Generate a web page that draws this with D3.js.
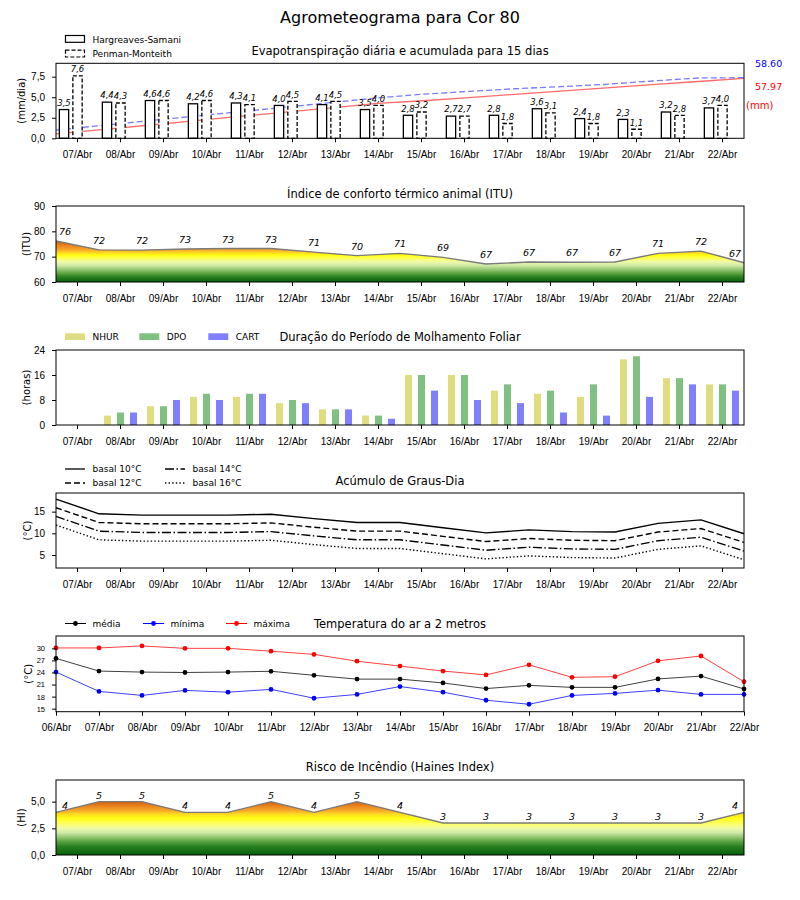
<!DOCTYPE html>
<html>
<head>
<meta charset="utf-8">
<script src="https://cdn.jsdelivr.net/npm/d3@7"></script>
<style>
body { margin: 0; background: #fff; }
svg { font-family: "DejaVu Sans", sans-serif; }
</style>
</head>
<body>
<svg id="chart" width="800" height="900"></svg>
<script>
// datas
const dias = ['07/Abr', '08/Abr', '09/Abr', '10/Abr', '11/Abr', '12/Abr', '13/Abr', '14/Abr',
    '15/Abr', '16/Abr', '17/Abr', '18/Abr', '19/Abr', '20/Abr', '21/Abr', '22/Abr'];
const diasTemp = ['06/Abr', '07/Abr', '08/Abr', '09/Abr', '10/Abr', '11/Abr', '12/Abr', '13/Abr', '14/Abr',
    '15/Abr', '16/Abr', '17/Abr', '18/Abr', '19/Abr', '20/Abr', '21/Abr', '22/Abr'];

// evapotranspiração (mm/dia) e acumulada (mm)
const etHS = [3.5, 4.4, 4.6, 4.2, 4.3, 4.0, 4.1, 3.5, 2.8, 2.7, 2.8, 3.6, 2.4, 2.3, 3.2, 3.7];
const etPM = [7.6, 4.3, 4.6, 4.6, 4.1, 4.5, 4.5, 4.0, 3.2, 2.7, 1.8, 3.1, 1.8, 1.1, 2.8, 4.0];
const acumHS = [4.2, 8.4, 12.6, 16.8, 21.1, 25.3, 29.5, 33.7, 36.3, 39.4, 42.5, 45.6, 48.7, 51.8, 54.9, 57.97];
const acumPM = [8.0, 12.4, 16.9, 21.3, 25.7, 30.1, 34.6, 39.0, 42.6, 45.3, 47.9, 49.9, 52.2, 55.4, 58.3, 58.6];
const ticksET = [0, 2.5, 5, 7.5];

// ITU
const itu = [76.2, 72.7, 72.6, 73.0, 73.2, 73.2, 71.8, 70.4, 71.3, 69.7, 67.1, 67.9, 67.8, 67.9, 71.3, 72.2, 67.6];
const ticksITU = [60, 70, 80, 90];

// molhamento foliar (horas)
const nhur = [0, 3, 6, 9, 9, 7, 5, 3, 16, 16, 11, 10, 9, 21, 15, 13];
const dpo = [0, 4, 6, 10, 10, 8, 5, 3, 16, 16, 13, 11, 13, 22, 15, 13];
const cart = [0, 4, 8, 8, 10, 7, 5, 2, 11, 8, 7, 4, 3, 9, 13, 11];
const ticksMolh = [0, 8, 16, 24];

// graus-dia
const basal10 = [17.9, 14.5, 14.2, 14.2, 14.2, 14.4, 13.4, 12.5, 12.5, 11.3, 10.1, 10.8, 10.4, 10.3, 12.3, 13.1, 9.9];
const basal12 = [15.9, 12.5, 12.2, 12.2, 12.2, 12.4, 11.4, 10.5, 10.5, 9.3, 8.1, 8.8, 8.4, 8.3, 10.3, 11.1, 7.9];
const basal14 = [13.9, 10.5, 10.2, 10.2, 10.2, 10.4, 9.4, 8.5, 8.5, 7.3, 6.1, 6.8, 6.4, 6.3, 8.3, 9.1, 5.9];
const basal16 = [11.9, 8.5, 8.2, 8.2, 8.2, 8.4, 7.4, 6.5, 6.5, 5.3, 4.1, 4.8, 4.4, 4.3, 6.3, 7.1, 3.9];
const ticksGD = [5, 10, 15];

// temperatura
const tMedia = [27.5, 24.35, 24.1, 24.0, 24.1, 24.3, 23.3, 22.35, 22.35, 21.4, 20.0, 20.8, 20.3, 20.3, 22.4, 23.1, 19.9];
const tMin = [24.1, 19.3, 18.3, 19.55, 19.1, 19.8, 17.6, 18.55, 20.5, 19.1, 17.1, 16.1, 18.3, 18.8, 19.6, 18.55, 18.55];
const tMax = [30.1, 30.1, 30.6, 30.0, 30.0, 29.3, 28.5, 26.8, 25.6, 24.35, 23.4, 25.9, 22.8, 22.95, 26.9, 28.1, 21.7];
const ticksTemp = [15, 18, 21, 24, 27, 30];

// haines
const haines = [4, 5, 5, 4, 4, 5, 4, 5, 4, 3, 3, 3, 3, 3, 3, 3, 4];
const ticksHI = [0, 2.5, 5];

const L = 56, R = 744;
const svg = d3.select('#chart');
const defs = svg.append('defs');
const loc = d3.formatLocale({decimal: ',', thousands: '.', grouping: [3], currency: ['', '']});
const fmt1 = loc.format('.1f');

const xb = d3.scaleBand().domain(dias).range([L, R]);
const bw = xb.bandwidth();
const cx = d => xb(d) + bw / 2;

svg.append('text')
    .attr('x', 400).attr('y', 23)
    .attr('text-anchor', 'middle')
    .style('font-size', '16px')
    .text('Agrometeograma para Cor 80');

function titulo(txt, y) {
    svg.append('text')
        .attr('x', 400).attr('y', y)
        .attr('text-anchor', 'middle')
        .style('font-size', '11.5px')
        .text(txt);
}

function rotulo(txt, x, top, bottom) {
    svg.append('text')
        .attr('transform', 'translate(' + x + ',' + ((top + bottom) / 2) + ') rotate(-90)')
        .attr('text-anchor', 'middle')
        .attr('dy', '0.35em')
        .style('font-size', '10px')
        .text(txt);
}

function eixos(y, ticks, format, bottom, xscale, yFont) {
    let gy = svg.append('g')
        .attr('transform', 'translate(' + L + ',0)')
        .call(d3.axisLeft(y).tickValues(ticks).tickFormat(format).tickSize(4).tickPadding(7).tickSizeOuter(0));
    gy.select('.domain').remove();
    gy.selectAll('text').attr('font-size', yFont || '10px').attr('font-family', null).attr('fill', '#000');
    let gx = svg.append('g')
        .attr('transform', 'translate(0,' + bottom + ')')
        .call(d3.axisBottom(xscale || xb).tickSize(4).tickPadding(8.5).tickSizeOuter(0));
    gx.select('.domain').remove();
    gx.selectAll('text').attr('font-size', '10px').attr('font-family', null).attr('fill', '#000');
}

function moldura(top, bottom) {
    svg.append('rect')
        .attr('x', L).attr('y', top)
        .attr('width', R - L).attr('height', bottom - top)
        .attr('fill', 'none').attr('stroke', '#000').attr('stroke-width', 1);
}

function gradiente(id, y, stops) {
    let grad = defs.append('linearGradient')
        .attr('id', id)
        .attr('gradientUnits', 'userSpaceOnUse')
        .attr('x1', 0).attr('x2', 0)
        .attr('y1', y(stops[0][0])).attr('y2', y(stops[stops.length - 1][0]));
    let v0 = stops[0][0], v1 = stops[stops.length - 1][0];
    stops.forEach(s => {
        grad.append('stop')
            .attr('offset', (s[0] - v0) / (v1 - v0))
            .attr('stop-color', s[1]);
    });
}

// ---------- 1. Evapotranspiração ----------
{
    const top = 63.3, bottom = 138.3;
    const y = d3.scaleLinear().domain([0, 9.13]).range([bottom, top]);
    const y2 = d3.scaleLinear().domain([0, 72.5]).range([bottom, top]);
    const xl = d3.scaleLinear().domain([0, acumHS.length - 1]).range([L, R]);

    const line = d3.line().x((d, i) => xl(i)).y(d => y2(d));
    svg.append('path').datum(acumHS)
        .attr('d', line).attr('fill', 'none')
        .attr('stroke', '#ff6b6b').attr('stroke-width', 1.3);
    svg.append('path').datum(acumPM)
        .attr('d', line).attr('fill', 'none')
        .attr('stroke', '#7a7aff').attr('stroke-width', 1.3)
        .attr('stroke-dasharray', '6,3');

    const w = bw * 0.216, off = bw * 0.314;
    svg.selectAll('rect.hs').data(etHS).enter().append('rect')
        .attr('class', 'hs')
        .attr('x', (d, i) => cx(dias[i]) - off - w / 2)
        .attr('y', d => y(d))
        .attr('width', w)
        .attr('height', d => bottom - y(d))
        .attr('fill', '#fff').attr('stroke', '#000').attr('stroke-width', 1.3);
    svg.selectAll('rect.pm').data(etPM).enter().append('rect')
        .attr('class', 'pm')
        .attr('x', (d, i) => cx(dias[i]) - w / 2)
        .attr('y', d => y(d))
        .attr('width', w)
        .attr('height', d => bottom - y(d))
        .attr('fill', '#fff').attr('stroke', '#000').attr('stroke-width', 1.3)
        .attr('stroke-dasharray', '4,2');
    svg.selectAll('text.hs').data(etHS).enter().append('text')
        .attr('x', (d, i) => cx(dias[i]) - off)
        .attr('y', d => y(d) - 3.7)
        .attr('text-anchor', 'middle')
        .style('font-size', '8.5px').style('font-style', 'italic')
        .text(d => fmt1(d));
    svg.selectAll('text.pm').data(etPM).enter().append('text')
        .attr('x', (d, i) => cx(dias[i]))
        .attr('y', d => y(d) - 3.7)
        .attr('text-anchor', 'middle')
        .style('font-size', '8.5px').style('font-style', 'italic')
        .text(d => fmt1(d));

    moldura(top, bottom);
    eixos(y, ticksET, fmt1, bottom);
    rotulo('(mm/dia)', 21, top, bottom);
    titulo('Evapotranspiração diária e acumulada para 15 dias', 55);

    svg.append('text').attr('x', 755).attr('y', 66.5)
        .style('font-size', '9.5px').attr('fill', '#0000ff')
        .text(acumPM[acumPM.length - 1].toFixed(2));
    svg.append('text').attr('x', 755).attr('y', 89.5)
        .style('font-size', '9.5px').attr('fill', '#ff0000')
        .text(acumHS[acumHS.length - 1].toFixed(2));
    svg.append('text').attr('x', 746).attr('y', 108.5)
        .style('font-size', '10px').attr('fill', '#ff0000')
        .text('(mm)');

    // legenda
    const leg = [['Hargreaves-Samani', null], ['Penman-Monteith', '4,2']];
    leg.forEach((l, i) => {
        let yy = 35.5 + i * 14.7;
        svg.append('rect').attr('x', 65.5).attr('y', yy).attr('width', 19).attr('height', 6.8)
            .attr('fill', '#fff').attr('stroke', '#000').attr('stroke-width', 1.2)
            .attr('stroke-dasharray', l[1]);
        svg.append('text').attr('x', 92.5).attr('y', yy + 7)
            .style('font-size', '9px').text(l[0]);
    });
}

// ---------- 2. ITU ----------
{
    const top = 206, bottom = 282;
    const y = d3.scaleLinear().domain([60, 90]).range([bottom, top]);
    const xl = d3.scaleLinear().domain([0, itu.length - 1]).range([L, R]);
    gradiente('gradITU', y, [
        [60, '#06600a'], [62, '#2a8020'], [63.5, '#5fa646'], [65, '#98c878'], [66.5, '#cfeaa6'],
        [68, '#eefaa8'], [69.3, '#ffff58'], [70.5, '#ffff14'], [71.6, '#ffd822'], [72.6, '#f8aa2a'],
        [74, '#ec8c22'], [75.5, '#dc6c12'], [77, '#cc5808']
    ]);
    const area = d3.area().x((d, i) => xl(i)).y0(bottom).y1(d => y(d));
    svg.append('path').datum(itu).attr('d', area).attr('fill', 'url(#gradITU)');
    svg.append('path').datum(itu)
        .attr('d', d3.line().x((d, i) => xl(i)).y(d => y(d)))
        .attr('fill', 'none').attr('stroke', '#7a7a7a').attr('stroke-width', 1.4);
    svg.selectAll('text.itu').data(itu).enter().append('text')
        .attr('x', (d, i) => Math.min(Math.max(xl(i), L + 9), R - 9))
        .attr('y', d => y(d) - 6)
        .attr('text-anchor', 'middle')
        .style('font-size', '9.5px').style('font-style', 'italic')
        .text(d => Math.floor(d));
    moldura(top, bottom);
    eixos(y, ticksITU, d3.format('d'), bottom);
    rotulo('(ITU)', 26, top, bottom);
    titulo('Índice de conforto térmico animal (ITU)', 198);
}

// ---------- 3. Molhamento foliar ----------
{
    const top = 350, bottom = 425;
    const y = d3.scaleLinear().domain([0, 24]).range([bottom, top]);
    const series = [[nhur, '#dfdd80', 'NHUR'], [dpo, '#80c080', 'DPO'], [cart, '#8080ff', 'CART']];
    const w = bw * 0.163, off = bw * 0.302;
    series.forEach((s, k) => {
        svg.selectAll('rect.m' + k).data(s[0]).enter().append('rect')
            .attr('class', 'm' + k)
            .attr('x', (d, i) => cx(dias[i]) + (k - 1) * off - w / 2)
            .attr('y', d => y(d))
            .attr('width', w)
            .attr('height', d => bottom - y(d))
            .attr('fill', s[1]);
    });
    moldura(top, bottom);
    eixos(y, ticksMolh, d3.format('d'), bottom);
    rotulo('(horas)', 26, top, bottom);
    titulo('Duração do Período de Molhamento Foliar', 341);
    const lx = [65, 139.3, 208.3];
    series.forEach((s, k) => {
        svg.append('rect').attr('x', lx[k]).attr('y', 333.3).attr('width', 20).attr('height', 6.7)
            .attr('fill', s[1]);
        svg.append('text').attr('x', lx[k] + 27.5).attr('y', 339.5)
            .style('font-size', '9px').text(s[2]);
    });
}

// ---------- 4. Graus-dia ----------
{
    const top = 493, bottom = 568;
    const y = d3.scaleLinear().domain([2.0, 19.3]).range([bottom, top]);
    const xl = d3.scaleLinear().domain([0, basal10.length - 1]).range([L, R]);
    const series = [
        [basal10, null, 'basal 10°C'],
        [basal12, '6,3', 'basal 12°C'],
        [basal14, '9,2.5,1.5,2.5', 'basal 14°C'],
        [basal16, '1.4,2.2', 'basal 16°C']
    ];
    const line = d3.line().x((d, i) => xl(i)).y(d => y(d));
    series.forEach(s => {
        svg.append('path').datum(s[0]).attr('d', line)
            .attr('fill', 'none').attr('stroke', '#000').attr('stroke-width', 1.4)
            .attr('stroke-dasharray', s[1]);
    });
    moldura(top, bottom);
    eixos(y, ticksGD, d3.format('d'), bottom);
    rotulo('(°C)', 27, top, bottom);
    titulo('Acúmulo de Graus-Dia', 485);
    const pos = [[65, 469], [65, 483], [165, 469], [165, 483]];
    series.forEach((s, k) => {
        svg.append('line').attr('x1', pos[k][0]).attr('x2', pos[k][0] + 20)
            .attr('y1', pos[k][1]).attr('y2', pos[k][1])
            .attr('stroke', '#000').attr('stroke-width', 1.3).attr('stroke-dasharray', s[1]);
        svg.append('text').attr('x', pos[k][0] + 27.5).attr('y', pos[k][1] + 3.3)
            .style('font-size', '9px').text(s[2]);
    });
}

// ---------- 5. Temperatura ----------
{
    const top = 636, bottom = 711.7;
    const y = d3.scaleLinear().domain([14.25, 33.07]).range([bottom, top]);
    const xp = d3.scalePoint().domain(diasTemp).range([L, R]);
    const series = [[tMedia, '#000', 'média'], [tMin, '#0000ff', 'mínima'], [tMax, '#ff0000', 'máxima']];
    const line = d3.line().x((d, i) => xp(diasTemp[i])).y(d => y(d));
    series.forEach((s, k) => {
        svg.append('path').datum(s[0]).attr('d', line)
            .attr('fill', 'none').attr('stroke', s[1]).attr('stroke-width', 1).attr('stroke-opacity', 0.75);
        svg.selectAll('circle.t' + k).data(s[0]).enter().append('circle')
            .attr('cx', (d, i) => xp(diasTemp[i]))
            .attr('cy', d => y(d))
            .attr('r', 2.4)
            .attr('fill', s[1]);
    });
    moldura(top, bottom);
    eixos(y, ticksTemp, d3.format('d'), bottom, xp, '7.5px');
    rotulo('(°C)', 28, top, bottom);
    titulo('Temperatura do ar a 2 metros', 628);
    const lx = [65, 143, 226];
    series.forEach((s, k) => {
        svg.append('line').attr('x1', lx[k]).attr('x2', lx[k] + 21)
            .attr('y1', 623.5).attr('y2', 623.5)
            .attr('stroke', s[1]).attr('stroke-width', 1);
        svg.append('circle').attr('cx', lx[k] + 10.5).attr('cy', 623.5).attr('r', 2.4).attr('fill', s[1]);
        svg.append('text').attr('x', lx[k] + 27.5).attr('y', 627)
            .style('font-size', '9px').text(s[2]);
    });
}

// ---------- 6. Haines ----------
{
    const top = 780, bottom = 855;
    const y = d3.scaleLinear().domain([0, 7.03]).range([bottom, top]);
    const xl = d3.scaleLinear().domain([0, haines.length - 1]).range([L, R]);
    gradiente('gradHI', y, [
        [0, '#06600a'], [0.8, '#2a8020'], [1.3, '#5fa646'], [1.7, '#98c878'], [2.1, '#cfeaa6'],
        [2.5, '#eefaa8'], [3.0, '#ffff58'], [3.45, '#ffff14'], [3.85, '#ffd822'], [4.15, '#f8aa2a'],
        [4.5, '#ec8c22'], [4.85, '#dc6c12'], [5.2, '#cc5808']
    ]);
    const area = d3.area().x((d, i) => xl(i)).y0(bottom).y1(d => y(d));
    svg.append('path').datum(haines).attr('d', area).attr('fill', 'url(#gradHI)');
    svg.append('path').datum(haines)
        .attr('d', d3.line().x((d, i) => xl(i)).y(d => y(d)))
        .attr('fill', 'none').attr('stroke', '#7a7a7a').attr('stroke-width', 1.4);
    svg.selectAll('text.hi').data(haines).enter().append('text')
        .attr('x', (d, i) => Math.min(Math.max(xl(i), L + 9), R - 9))
        .attr('y', d => y(d) - 3)
        .attr('text-anchor', 'middle')
        .style('font-size', '9.5px').style('font-style', 'italic')
        .text(d => d);
    moldura(top, bottom);
    eixos(y, ticksHI, fmt1, bottom);
    rotulo('(HI)', 21, top, bottom);
    titulo('Risco de Incêndio (Haines Index)', 771);
}
</script>
</body>
</html>
